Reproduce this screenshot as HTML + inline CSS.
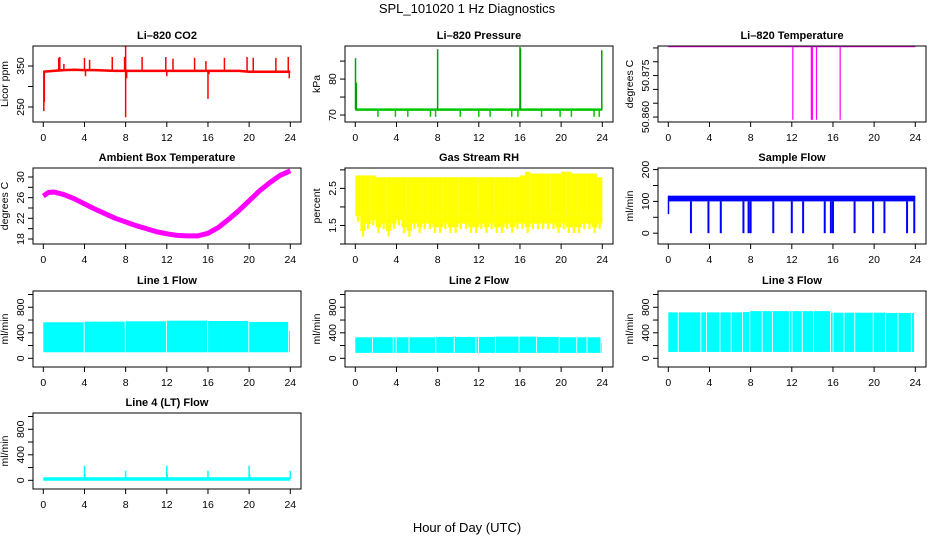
<!DOCTYPE html>
<html><head><meta charset="utf-8">
<style>
html,body{margin:0;padding:0;background:#fff;}
svg{display:block;font-family:"Liberation Sans",Arial,sans-serif;}
</style></head>
<body>
<svg id="fig" width="936" height="540" viewBox="0 0 936 540">
<text x="467" y="13" text-anchor="middle" font-size="13">SPL_101020  1 Hz Diagnostics</text>
<text x="467" y="532" text-anchor="middle" font-size="13">Hour of Day (UTC)</text>
</svg>
<script>
// ---- data ----
const xTicks = [0,4,8,12,16,20,24];
// CO2
const co2Hours = [0,1,2,3,4,5,6,7,8,9,10,11,12,13,14,15,16,17,18,19,20,21,22,23,24];
const co2Base = [336,338,340,341,340,340,339,338,338,338,338,338,338,338,338,338,338,338,338,338,336,336,336,336,336];
const co2SpikeT = [0.05,0.1,1.5,1.6,2.0,4.0,4.1,4.5,6.7,7.9,8.0,8.0,8.1,9.6,11.9,12.0,12.6,14.7,15.8,16.0,16.1,17.6,19.8,20.4,22.6,23.8,23.9];
const co2SpikeV = [240,262,370,372,355,370,325,365,372,372,225,400,320,372,372,325,368,370,362,270,330,370,372,370,370,372,320];
// Pressure
const presBase = 71.5;
const presDipT = [2.2,3.9,5.1,7.3,7.8,10.2,12.0,13.1,15.2,15.8,18.1,19.9,21.0,23.2,23.7];
const presDipV = [69.5,69.5,69.5,69.5,69.5,69.5,69.5,69.5,69.5,69.5,69.5,69.5,69.5,69.5,69.5];
const presSpikeT = [0.02,0.1,8.0,16.0,16.05,23.95];
const presSpikeV = [85.8,79.0,88.3,88.9,88.5,88.0];
// Li-820 temperature
const ltBase = 50.8855;
const ltDipT = [12.1,13.9,14.0,14.4,16.7];
const ltDipV = [50.859,50.859,50.859,50.859,50.859];
// Ambient box temperature
const ambHours = [0,0.5,1,2,3,4,5,6,7,8,9,10,11,12,13,14,15,16,17,18,19,20,21,22,23,24];
const ambTemp = [26.3,27.0,27.1,26.6,25.8,24.8,23.8,22.9,22.0,21.3,20.6,20.0,19.4,19.0,18.7,18.6,18.6,19.1,20.2,21.8,23.5,25.4,27.3,28.9,30.3,31.2];
// Gas stream RH (half-hour bins)
const rhLo = [1.6,1.2,1.4,1.5,1.3,1.4,1.2,1.4,1.5,1.3,1.2,1.4,1.3,1.4,1.4,1.3,1.3,1.4,1.3,1.3,1.4,1.4,1.3,1.3,1.4,1.3,1.4,1.3,1.3,1.4,1.3,1.4,1.4,1.3,1.4,1.4,1.4,1.4,1.4,1.3,1.4,1.3,1.3,1.3,1.4,1.4,1.3,1.4];
const rhHi = [2.85,2.85,2.85,2.85,2.8,2.8,2.8,2.8,2.8,2.8,2.8,2.8,2.8,2.8,2.8,2.8,2.8,2.8,2.8,2.8,2.8,2.8,2.8,2.8,2.8,2.8,2.8,2.8,2.8,2.8,2.8,2.8,2.85,2.95,2.9,2.9,2.9,2.9,2.9,2.9,2.95,2.95,2.9,2.9,2.9,2.9,2.9,2.8];
// Sample flow
const sfLo = 100, sfHi = 118;
const sfDropT = [2.2,3.9,5.1,7.3,7.8,8.0,10.2,12.0,13.1,15.2,15.8,16.0,18.1,19.9,21.0,23.2,23.9];
const sfDropV = [0,0,0,0,0,0,0,0,0,0,0,0,0,0,0,0,0];
// Line flows: gaps (hours), band lo/hi
const l1Gaps = [3.95,7.95,11.95,15.95,19.95,23.82];
const l1Lo = 95, l1Hi = [565,575,580,590,585,570,430];
const l2Gaps = [1.65,3.67,3.95,5.2,7.8,9.6,11.7,11.95,13.6,15.9,17.6,19.8,21.5,22.5,23.85];
const l2Lo = 85, l2Hi = [330,330,330,330,330,335,335,335,335,340,340,335,330,330,330,250];
const l3Gaps = [0.95,3.15,3.7,5.0,6.1,7.2,7.9,9.1,10.1,11.75,12.0,13.0,14.1,15.75,16.0,17.05,18.1,19.9,21.1,22.3,23.6,23.9];
const l3Lo = 100, l3Hi = [720,720,720,720,720,720,725,740,740,740,740,740,740,740,715,715,715,715,715,710,710,710,590];
// Line 4
const l4Base = 20;
const l4SpikeT = [4,8,12,16,20,24,4.05,12.05,20.05];
const l4SpikeV = [230,150,230,150,230,150,100,100,100];

// ---- drawing ----
const NS = "http://www.w3.org/2000/svg";
const svg = document.getElementById("fig");
function mk(tag, attrs, parent){
  const e = document.createElementNS(NS, tag);
  for (const k in attrs) e.setAttribute(k, attrs[k]);
  (parent||svg).appendChild(e);
  return e;
}
const lefts = [33,345,658];
const tops = [46,168,291,413];
const W = 268, H = 76;

function panel(c, r, name, title, ylab, ylim, yticks, ylabels){
  const L = lefts[c], T = tops[r];
  const g = mk("g", {});
  
  
  const sx = h => L + 10.3 + h * (247/24);
  const sy = v => T + H - (v - ylim[0]) / (ylim[1] - ylim[0]) * H;
  const t = mk("text", {x: L + W/2, y: T - 7, "text-anchor":"middle", "font-size":"11", "font-weight":"bold"}, g);
  t.textContent = title;
  
  
  const yl = mk("text", {x:0, y:0, "text-anchor":"middle", "font-size":"10.5", transform:`translate(${L-25},${T+H/2}) rotate(-90)`}, g);
  yl.textContent = ylab;
  
  
  const xa = mk("g", {}, g);
  
  
  mk("line", {x1:sx(0), x2:sx(24), y1:T+H, y2:T+H, stroke:"#000"}, xa);
  xTicks.forEach(h => {
    mk("line", {x1:sx(h), x2:sx(h), y1:T+H, y2:T+H+5, stroke:"#000"}, xa);
    const tl = mk("text", {x:sx(h), y:T+H+19, "text-anchor":"middle", "font-size":"10.5"}, xa);
    tl.textContent = h;
    
    
  });
  const ya = mk("g", {}, g);
  
  
  mk("line", {x1:L, x2:L, y1:sy(yticks[0]), y2:sy(yticks[yticks.length-1]), stroke:"#000"}, ya);
  yticks.forEach(v => {
    mk("line", {x1:L-5, x2:L, y1:sy(v), y2:sy(v), stroke:"#000"}, ya);
  });
  ylabels.forEach(lb => {
    const tl = mk("text", {x:0, y:0, "text-anchor":"middle", "font-size":"10.5", transform:`translate(${L-9},${sy(lb[0])}) rotate(-90)`}, ya);
    tl.textContent = lb[1];
    
    
  });
  const clipId = "clip" + c + r;
  const cp = mk("clipPath", {id: clipId}, g);
  mk("rect", {x:L, y:T, width:W, height:H}, cp);
  const plot = mk("g", {"clip-path":`url(#${clipId})`}, g);
  
  
  const box = mk("rect", {x:L, y:T, width:W, height:H, fill:"none", stroke:"#000"}, g);
  
  
  return {sx, sy, g: plot};
}
function vline(p, t, v0, v1, color, w, nm){
  const e = mk("line", {x1:p.sx(t), x2:p.sx(t), y1:p.sy(v0), y2:p.sy(v1), stroke:color, "stroke-width":w}, p.g);
  
  
}
function hline(p, t0, t1, v, color, w, nm){
  const e = mk("line", {x1:p.sx(t0), x2:p.sx(t1), y1:p.sy(v), y2:p.sy(v), stroke:color, "stroke-width":w}, p.g);
  
  
}
function band(p, gaps, lo, his, color, nm){
  const edges = [0].concat(gaps).concat([24]);
  for (let i = 0; i < edges.length - 1; i++){
    const a = edges[i] + (i ? 0.06 : 0), b = edges[i+1] - 0.03;
    if (b <= a) continue;
    const e = mk("rect", {x:p.sx(a), y:p.sy(his[i]), width:p.sx(b)-p.sx(a), height:p.sy(lo)-p.sy(his[i]), fill:color}, p.g);
    
    
  }
}

// CO2
let p = panel(0,0,"co2","Li\u2013820 CO2","Licor ppm",[213.4,398.8],[250,300,350],[[250,"250"],[350,"350"]]);
let pts = co2Hours.map((h,i)=>p.sx(h)+","+p.sy(co2Base[i])).join(" ");
let pl = mk("polyline",{points:pts,fill:"none",stroke:"#ff0000","stroke-width":2.5},p.g);


co2SpikeT.forEach((t,i)=>vline(p,t,338,co2SpikeV[i],"#ff0000",1.5,"co2-spike"));

// Pressure
p = panel(1,0,"pressure","Li\u2013820 Pressure","kPa",[68.06,89.2],[70,75,80,85],[[70,"70"],[80,"80"]]);
hline(p,0,24,presBase,"#00c800",2.5,"pressure-baseline");
presDipT.forEach((t,i)=>vline(p,t,presBase,presDipV[i],"#00c800",1.5,"pressure-dip"));
presSpikeT.forEach((t,i)=>vline(p,t,presBase,presSpikeV[i],"#00a000",1.5,"pressure-spike"));

// Li temperature
p = panel(2,0,"li-temperature","Li\u2013820 Temperature","degrees C",[50.8582,50.8857],[50.86,50.865,50.87,50.875,50.88,50.885],[[50.86,"50.860"],[50.875,"50.875"]]);
hline(p,0,24,ltBase,"#ff00ff",1.5,"li-temperature-baseline");
ltDipT.forEach((t,i)=>vline(p,t,ltBase,ltDipV[i],"#ff00ff",1.2,"li-temperature-dip"));

// Ambient
p = panel(0,1,"ambient","Ambient Box Temperature","degrees C",[17.03,31.74],[18,20,22,24,26,28,30],[[18,"18"],[22,"22"],[26,"26"],[30,"30"]]);
pts = ambHours.map((h,i)=>p.sx(h)+","+p.sy(ambTemp[i])).join(" ");
pl = mk("polyline",{points:pts,fill:"none",stroke:"#ff00ff","stroke-width":5,"stroke-linejoin":"round"},p.g);



// RH
p = panel(1,1,"rh","Gas Stream RH","percent",[1.0,3.05],[1.0,1.5,2.0,2.5,3.0],[[1.5,"1.5"],[2.5,"2.5"]]);
rhLo.forEach((lo,i)=>{
  const a = i*0.5, b = i*0.5+0.5;
  const e = mk("rect",{x:p.sx(a),y:p.sy(rhHi[i]),width:p.sx(b)-p.sx(a),height:p.sy(1.8)-p.sy(rhHi[i]),fill:"#ffff00"},p.g);
  
  
  [0.1,0.25,0.4].forEach((f,k)=>{
    vline(p,a+f,1.8,k===1?lo:(lo+0.15),"#ffff00",2.2,"rh-dip");
  });
});

// Sample flow
p = panel(2,1,"sample-flow","Sample Flow","ml/min",[-34,205],[0,50,100,150,200],[[0,"0"],[100,"100"],[200,"200"]]);
let sr = mk("rect",{x:p.sx(0),y:p.sy(sfHi),width:p.sx(24)-p.sx(0),height:p.sy(sfLo)-p.sy(sfHi),fill:"#0000ff"},p.g);


vline(p,0.02,60,sfHi,"#0000ff",1.5,"sample-flow-start");
sfDropT.forEach((t,i)=>vline(p,t,sfLo,sfDropV[i],"#0000ff",2,"sample-flow-drop"));

// Line flows
const flowTicks = [0,200,400,600,800,1000];
const flowLabels = [[0,"0"],[400,"400"],[800,"800"]];
p = panel(0,2,"line1-flow","Line 1 Flow","ml/min",[-136,1055],flowTicks,flowLabels);
band(p,l1Gaps,l1Lo,l1Hi,"#00ffff","line1-flow");
p = panel(1,2,"line2-flow","Line 2 Flow","ml/min",[-136,1055],flowTicks,flowLabels);
band(p,l2Gaps,l2Lo,l2Hi,"#00ffff","line2-flow");
p = panel(2,2,"line3-flow","Line 3 Flow","ml/min",[-136,1055],flowTicks,flowLabels);
band(p,l3Gaps,l3Lo,l3Hi,"#00ffff","line3-flow");
p = panel(0,3,"line4-flow","Line 4 (LT) Flow","ml/min",[-136,1055],flowTicks,flowLabels);
hline(p,0,24,l4Base,"#00ffff",3.5,"line4-flow-baseline");
l4SpikeT.forEach((t,i)=>vline(p,t,l4Base,l4SpikeV[i],"#00ffff",1.5,"line4-flow-spike"));
</script>
</body></html>
